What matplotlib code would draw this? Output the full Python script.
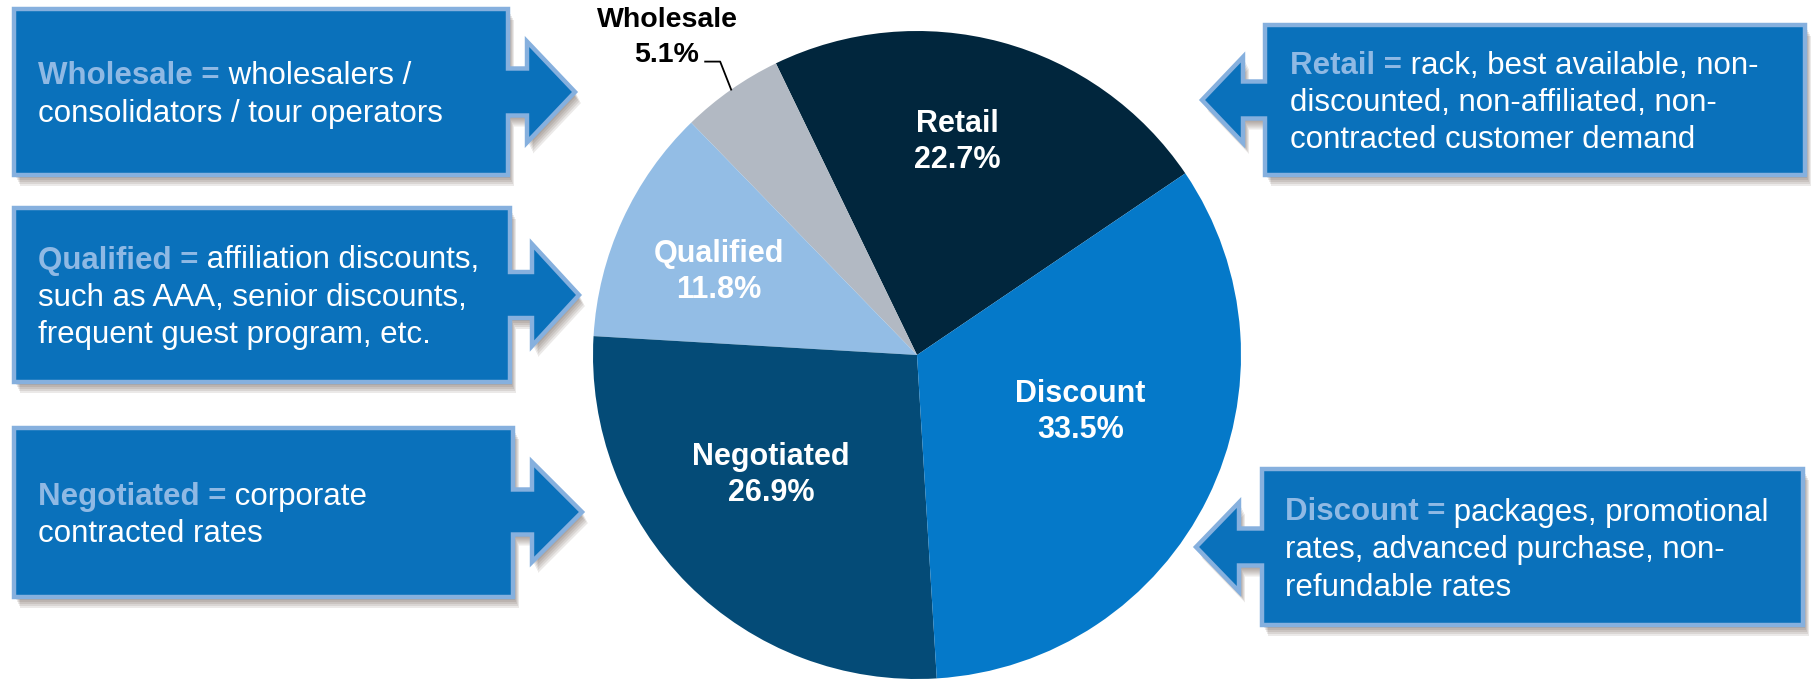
import numpy as np
import matplotlib
matplotlib.use('Agg')
import matplotlib.pyplot as plt
from matplotlib.patches import Polygon

plt.rcParams['font.family'] = ['Liberation Sans', 'DejaVu Sans']

# Pie data (counter-clockwise starting from Retail)
categories = ['Retail', 'Wholesale', 'Qualified', 'Negotiated', 'Discount']
shares = [22.7, 5.1, 11.8, 26.9, 33.5]

# Callout definitions
callout_terms = ['Wholesale', 'Qualified', 'Negotiated', 'Retail', 'Discount']
callout_lines = [
    ['wholesalers /', 'consolidators / tour operators'],
    ['affiliation discounts,', 'such as AAA, senior discounts,', 'frequent guest program, etc.'],
    ['corporate', 'contracted rates'],
    ['rack, best available, non-', 'discounted, non-affiliated, non-', 'contracted customer demand'],
    ['packages, promotional', 'rates, advanced purchase, non-', 'refundable rates'],
]

slice_colors = ['#01263d', '#b2b9c3', '#93bde5', '#044b77', '#0579c9']
BOX_FILL = '#0a71bb'
BOX_EDGE = '#86b0de'
TERM_COLOR = '#8fb9e4'

W, H = 1816, 681
fig = plt.figure(figsize=(W / 100, H / 100), dpi=100)
ax = fig.add_axes([0, 0, 1, 1])

# pie (pixel units, y measured upward)
cx, cy, R = 917, H - 355, 324
wedges, _ = ax.pie(shares, colors=slice_colors, startangle=34.1, counterclock=True,
                   center=(cx, cy), radius=R, wedgeprops=dict(linewidth=0))

# slice labels: (radius fraction, angle tweak)
label_pos = {'Retail': (0.67, 4.4), 'Qualified': (0.664, 1.8),
             'Discount': (0.534, 6.9), 'Negotiated': (0.583, -5.7)}
for w, name, val in zip(wedges, categories, shares):
    mid = (w.theta1 + w.theta2) / 2
    if name in label_pos:
        frac, tweak = label_pos[name]
        a = np.radians(mid + tweak)
        ax.text(cx + frac * R * np.cos(a), cy + frac * R * np.sin(a),
                f'{name}\n{val:.1f}%', color='white', fontsize=22, fontweight='bold',
                ha='center', va='center', ma='center', linespacing=1.27, zorder=5)
    else:
        # small slice: label outside with leader line
        a = np.radians(mid)
        ex, ey = cx + R * np.cos(a), cy + R * np.sin(a)
        kx, ky = ex - 11, ey + 28
        lx, ly = kx - 15, ky
        ax.plot([ex, kx, lx], [ey, ky, ly], color='black', lw=1.3, zorder=5)
        ax.text(lx - 39, ly, f'{val:.1f}%', color='black', fontsize=20.5,
                fontweight='bold', ha='center', va='baseline')
        ax.text(lx - 38, ly + 35, name, color='black', fontsize=20.5,
                fontweight='bold', ha='center', va='baseline')


def arrow_shape(L, T, Rt, B, mid, shaft, hbase, hhalf, tip):
    # coordinates in image pixels (y down), returned in axes units
    if tip > Rt:
        pts = [(L, T), (Rt, T), (Rt, mid - shaft), (hbase, mid - shaft), (hbase, mid - hhalf),
               (tip, mid), (hbase, mid + hhalf), (hbase, mid + shaft), (Rt, mid + shaft),
               (Rt, B), (L, B)]
    else:
        pts = [(Rt, T), (L, T), (L, mid - shaft), (hbase, mid - shaft), (hbase, mid - hhalf),
               (tip, mid), (hbase, mid + hhalf), (hbase, mid + shaft), (L, mid + shaft),
               (L, B), (Rt, B)]
    return np.array([(x, H - y) for x, y in pts])


# box layout: left, top, right, bottom, arrow center, shaft half, head base, head half, tip, text x
boxes = [
    (14, 9, 508, 175, 92, 23.5, 527, 50.5, 575, 38),
    (14, 208, 510, 382, 295, 23, 532, 51, 579, 38),
    (14, 428, 513, 597, 512, 22.5, 532, 50, 582, 38),
    (1265, 25, 1805, 175, 100, 18.5, 1243, 43, 1202, 1290),
    (1262, 469, 1803, 625, 547, 18.5, 1239, 44.5, 1196, 1285),
]

renderer = fig.canvas.get_renderer()
fs = 22.5
spacing = 37.5
for (L, T, Rt, B, mid, shaft, hb, hh, tip, tx), term, lines in zip(boxes, callout_terms, callout_lines):
    pts = arrow_shape(L, T, Rt, B, mid, shaft, hb, hh, tip)
    # soft drop shadow
    for dx, dy in [(2, 3), (3, 5), (4, 7), (5, 9), (6, 11)]:
        ax.add_patch(Polygon(pts + [dx, -dy], closed=True, facecolor='#4a3a2e',
                             edgecolor='none', alpha=0.11, zorder=2))
    ax.add_patch(Polygon(pts, closed=True, facecolor=BOX_FILL, edgecolor=BOX_EDGE,
                         lw=3.2, joinstyle='miter', zorder=3))
    n = len(lines)
    top_center = (T + B) / 2 - spacing * (n - 1) / 2
    for i, line in enumerate(lines):
        yb = H - (top_center + i * spacing) - 11
        x = tx
        if i == 0:
            t = ax.text(x, yb, term + ' =', color=TERM_COLOR, fontsize=fs,
                        fontweight='bold', ha='left', va='baseline', zorder=4)
            bb = t.get_window_extent(renderer)
            x = x + bb.width
            line = ' ' + line
        ax.text(x, yb, line, color='white', fontsize=fs, ha='left', va='baseline', zorder=4)

ax.set_xlim(0, W)
ax.set_ylim(0, H)
ax.axis('off')

fig.savefig('out.png', dpi=100)
